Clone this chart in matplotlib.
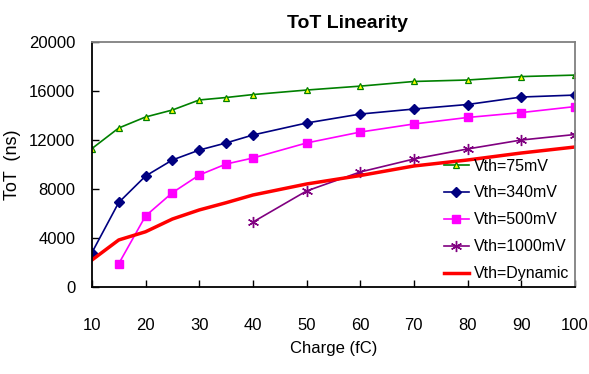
import matplotlib
matplotlib.use("Agg")
import matplotlib.pyplot as plt

plt.rcParams['font.family'] = ['Liberation Sans', 'DejaVu Sans']

charge_75 = [10, 15, 20, 25, 30, 35, 40, 50, 60, 70, 80, 90, 100]
tot_75 = [11300, 12980, 13880, 14450, 15270, 15470, 15710, 16080, 16400, 16780, 16900, 17180, 17300]

charge_340 = [10, 15, 20, 25, 30, 35, 40, 50, 60, 70, 80, 90, 100]
tot_340 = [2800, 6900, 9060, 10370, 11180, 11760, 12410, 13390, 14120, 14530, 14900, 15510, 15670]

charge_500 = [15, 20, 25, 30, 35, 40, 50, 60, 70, 80, 90, 100]
tot_500 = [1900, 5800, 7700, 9140, 10040, 10530, 11760, 12650, 13310, 13840, 14240, 14730]

charge_1000 = [40, 50, 60, 70, 80, 90, 100]
tot_1000 = [5300, 7840, 9390, 10450, 11270, 12000, 12450]

charge_dyn = [10, 15, 20, 25, 30, 35, 40, 50, 60, 70, 80, 90, 100]
tot_dyn = [2200, 3840, 4510, 5550, 6290, 6880, 7510, 8410, 9100, 9880, 10370, 10940, 11430]

x_ticks = [10, 20, 30, 40, 50, 60, 70, 80, 90, 100]
y_ticks = [0, 4000, 8000, 12000, 16000, 20000]

fig = plt.figure(figsize=(5.89, 3.74), dpi=100)
ax = fig.add_axes([0.156, 0.2326, 0.82, 0.655])

ax.plot(charge_75, tot_75, color='#008000', lw=1.2, marker='^', ms=4.5,
        mfc='#FFFF00', mec='#008000', mew=0.9, label='Vth=75mV')
ax.plot(charge_340, tot_340, color='#000080', lw=1.2, marker='D', ms=5.5,
        mfc='#000080', mec='#000080', label='Vth=340mV')
ax.plot(charge_500, tot_500, color='#FF00FF', lw=1.2, marker='s', ms=6,
        mfc='#FF00FF', mec='#FF00FF', label='Vth=500mV')
ax.plot(charge_1000, tot_1000, color='#800080', lw=1.2, marker=(6, 2, 0), ms=8,
        mec='#800080', mew=1.0, label='Vth=1000mV')
ax.plot(charge_dyn, tot_dyn, color='#FF0000', lw=2.5, label='Vth=Dynamic')

ax.set_xlim(10, 100)
ax.set_ylim(0, 20000)
ax.set_xticks(x_ticks)
ax.set_yticks(y_ticks)
ax.tick_params(axis='both', direction='in', length=5, width=1, labelsize=12)
ax.tick_params(axis='x', pad=22)
ax.tick_params(axis='y', pad=12)

for s in ['left', 'bottom']:
    ax.spines[s].set_color('black')
    ax.spines[s].set_linewidth(1.3)
for s in ['top', 'right']:
    ax.spines[s].set_color('#808080')
    ax.spines[s].set_linewidth(1.3)

ax.set_xlabel('Charge (fC)', fontsize=12, labelpad=6)
ax.set_ylabel('ToT  (ns)', fontsize=13, labelpad=6)
ax.set_title('ToT Linearity', fontsize=14, fontweight='bold', pad=10, x=0.53)

leg = ax.legend(loc='lower right', frameon=False, fontsize=11.5, handlelength=1.6,
                handletextpad=0.3, labelspacing=0.75, borderaxespad=0.05,
                borderpad=0.3)

fig.savefig('out.png', dpi=100)
